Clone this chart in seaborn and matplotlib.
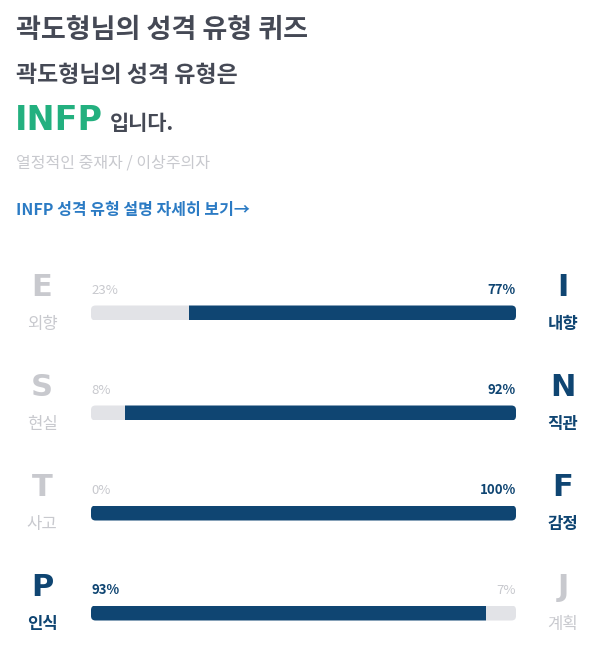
import matplotlib
matplotlib.use("Agg")
import matplotlib.pyplot as plt
from matplotlib.patches import FancyBboxPatch
import seaborn as sns
import pandas as pd

# ---- data ----
title = "곽도형님의 성격 유형 퀴즈"
subtitle = "곽도형님의 성격 유형은"
mbti_type = "INFP"
type_suffix = "입니다."
type_desc = "열정적인 중재자 / 이상주의자"
link_text = "INFP 성격 유형 설명 자세히 보기→"

dims = ["EI", "SN", "TF", "PJ"]
left_letters = ["E", "S", "T", "P"]
left_names = ["외향", "현실", "사고", "인식"]
left_pct = [23, 8, 0, 93]
right_letters = ["I", "N", "F", "J"]
right_names = ["내향", "직관", "감정", "계획"]
right_pct = [77, 92, 100, 7]

# ---- style ----
sns.set_theme(style="white")
plt.rcParams["font.family"] = ["Noto Sans CJK KR", "DejaVu Sans"]

NAVY = "#0f4572"
GREY_BAR = "#e2e3e7"
GREY_TXT = "#c8c9ce"
DARK_TXT = "#454955"
GREEN = "#23b07f"
BLUE = "#2b7bc4"

W, H = 612, 669
fig = plt.figure(figsize=(W / 100, H / 100), dpi=100)
fig.patch.set_facecolor("white")


def P(x, y):
    return x / W, 1 - y / H


# header texts
fig.text(*P(16, 30), title, fontsize=19.5, fontweight="bold", color=DARK_TXT, va="center", ha="left")
fig.text(*P(16, 76), subtitle, fontsize=16.5, fontweight="bold", color=DARK_TXT, va="center", ha="left")
fig.text(*P(15, 121), mbti_type, fontsize=24, fontweight="bold", color=GREEN, va="center", ha="left",
         family=["DejaVu Sans"])
fig.text(*P(110, 124), type_suffix, fontsize=15, fontweight="bold", color=DARK_TXT, va="center", ha="left")
fig.text(*P(16, 163), type_desc, fontsize=11.5, color=GREY_TXT, va="center", ha="left")
fig.text(*P(16, 210), link_text, fontsize=11.5, fontweight="bold", color=BLUE, va="center", ha="left")

# ---- bars ----
bar_left, bar_right = 91, 516
row_top = 263
row_h = 100
ax = fig.add_axes([bar_left / W, (H - (row_top + 4 * row_h)) / H,
                   (bar_right - bar_left) / W, 4 * row_h / H])

df = pd.DataFrame({"dim": dims, "left": left_pct, "right": right_pct})
left_dom = [l > r for l, r in zip(left_pct, right_pct)]
left_colors = {d: (NAVY if ld else GREY_BAR) for d, ld in zip(dims, left_dom)}
right_colors = {d: (GREY_BAR if ld else NAVY) for d, ld in zip(dims, left_dom)}

sns.barplot(data=df, x="left", y="dim", hue="dim", palette=left_colors, legend=False,
            width=0.15, orient="h", ax=ax, saturation=1, linewidth=0)
n_left = len(ax.patches)
sns.barplot(data=df, x="right", y="dim", hue="dim", palette=right_colors, legend=False,
            width=0.15, orient="h", ax=ax, saturation=1, linewidth=0)
ax.set_xlim(0, 100)
ax.set_ylim(3.5, -0.5)
ax.axis("off")

# right segment starts where the left one ends; clip both to a rounded track
px_per_x = (bar_right - bar_left) / 100
px_per_y = row_h
rad_px = 4.5
r = rad_px / px_per_x
asp = (rad_px / px_per_y) / r
patches = list(ax.patches)
lefts = {round(p.get_y() + p.get_height() / 2, 3): p for p in patches[:n_left]}
rights = {round(p.get_y() + p.get_height() / 2, 3): p for p in patches[n_left:]}
for key, lp in lefts.items():
    rp = rights[key]
    rp.set_x(lp.get_x() + lp.get_width())
    y, h = lp.get_y(), lp.get_height()
    track = FancyBboxPatch((0, y), 100, h, boxstyle=f"round,pad=0,rounding_size={r}",
                           mutation_aspect=asp, fc="none", ec="none", lw=0)
    ax.add_patch(track)
    track.set_visible(False)
    for p in (lp, rp):
        p.set_linewidth(0)
        p.set_edgecolor("none")
        p.set_clip_path(track)

# ---- labels ----
for i in range(4):
    cy = row_top + row_h * i + 50  # bar center
    ldom = left_dom[i]
    lc = NAVY if ldom else GREY_TXT
    rc = GREY_TXT if ldom else NAVY
    # big letters
    fig.text(*P(42, cy - 26), left_letters[i], fontsize=22, fontweight="bold", color=lc,
             ha="center", va="center", family=["DejaVu Sans"])
    fig.text(*P(563, cy - 26), right_letters[i], fontsize=22, fontweight="bold", color=rc,
             ha="center", va="center", family=["DejaVu Sans"])
    # names
    fig.text(*P(42, cy + 11), left_names[i], fontsize=12, fontweight="bold" if ldom else "normal",
             color=lc, ha="center", va="center")
    fig.text(*P(563, cy + 11), right_names[i], fontsize=12, fontweight="normal" if ldom else "bold",
             color=rc, ha="center", va="center")
    # percents
    fig.text(*P(bar_left, cy - 23), f"{left_pct[i]}%", fontsize=9.5,
             fontweight="bold" if ldom else "normal", color=lc, ha="left", va="center")
    fig.text(*P(bar_right, cy - 23), f"{right_pct[i]}%", fontsize=9.5,
             fontweight="normal" if ldom else "bold", color=rc, ha="right", va="center")

fig.savefig("out.png", dpi=100, facecolor="white")
